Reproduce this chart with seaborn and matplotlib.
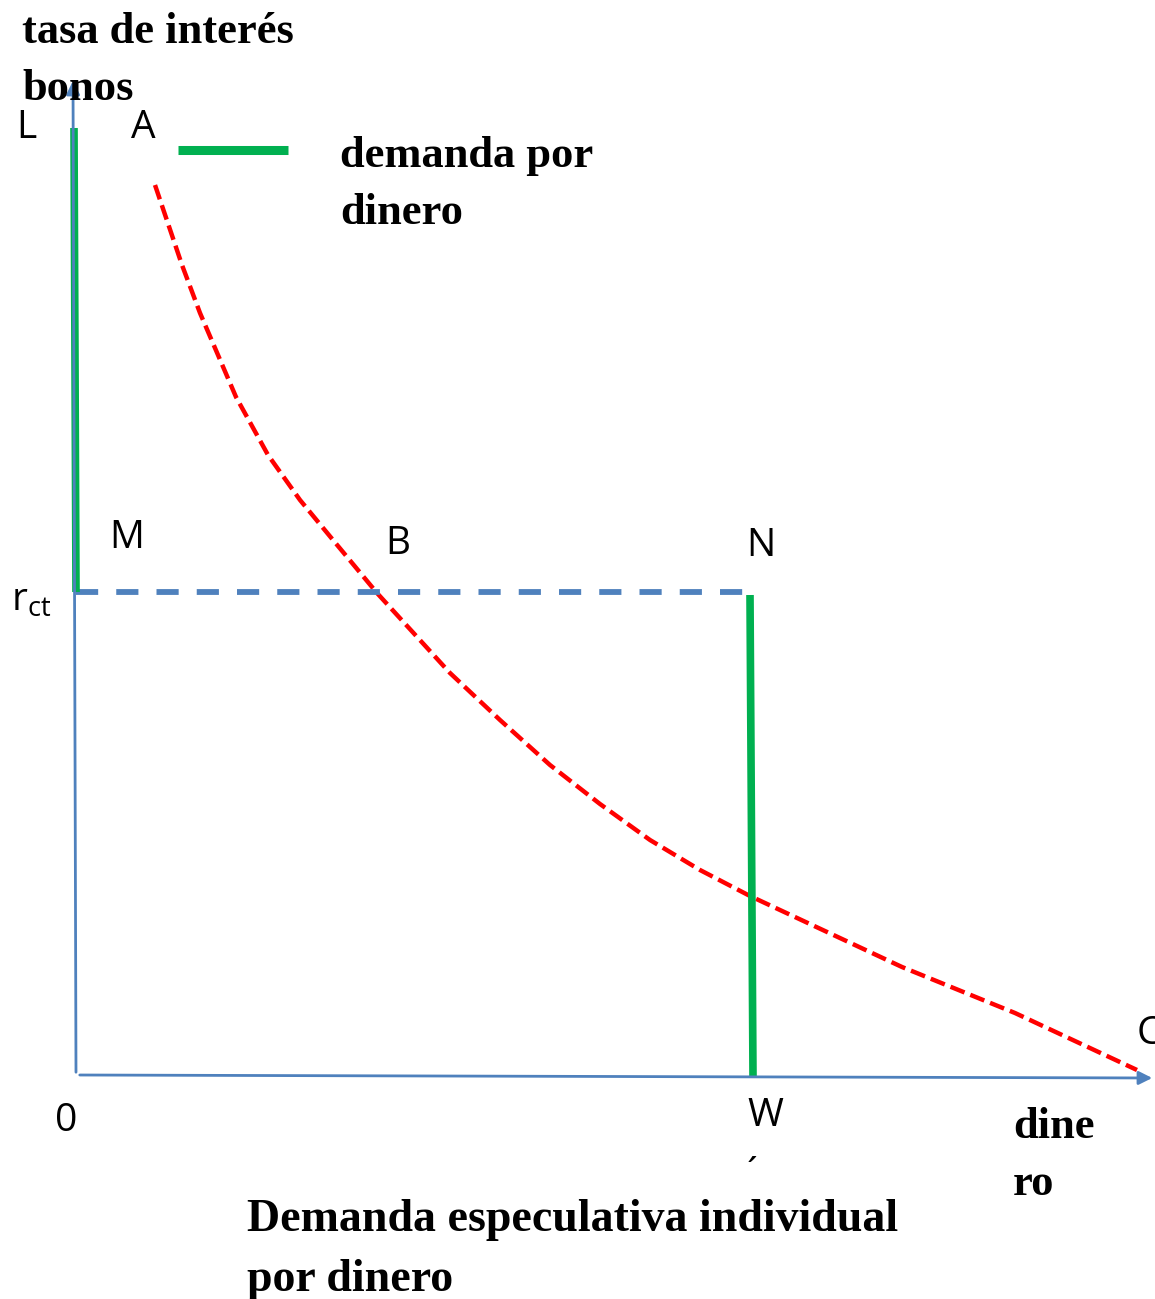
import numpy as np
import pandas as pd
import seaborn as sns
import matplotlib.pyplot as plt

# -------------------------------
# Data (units: money on x, interest rate on y)
# -------------------------------
curve_x = [77, 104, 122, 158, 190, 222, 255, 299, 372, 422, 472, 522, 572,
           622, 672, 824, 937, 1059]
curve_y = [890, 810, 762, 678, 620, 575, 535, 482, 402, 355, 310, 271, 235,
           205, 179, 108, 62, 5]

r_ct = 483
top_L = 947

green_left_x = [-4, -2]
green_left_y = [top_L, r_ct]
green_right_x = [672, 675]
green_right_y = [r_ct - 3, -2]
rct_line_x = [-2, 672]
rct_line_y = [r_ct, r_ct]

# -------------------------------
# Figure
# -------------------------------
sns.set_theme(style="white")
plt.rcParams["font.family"] = ["Open Sans", "DejaVu Sans"]
plt.rcParams["text.color"] = "black"
plt.rcParams["mathtext.fontset"] = "custom"
plt.rcParams["mathtext.rm"] = "Open Sans"

fig = plt.figure(figsize=(11.55, 12.99), dpi=100)
ax = fig.add_axes([0, 0, 1, 1])
ax.set_xlim(-78, 1077)
ax.set_ylim(-224, 1075)
ax.axis("off")

blue = "#4F81BD"
green = "#00B050"
red = "#FF0000"

# axes arrows
ax.annotate("", xy=(-5, 997), xytext=(-2, 0),
            arrowprops=dict(arrowstyle="-|>", color=blue, lw=2, mutation_scale=20))
ax.annotate("", xy=(1077, -3), xytext=(-1, 0),
            arrowprops=dict(arrowstyle="-|>", color=blue, lw=2, mutation_scale=20))

# demand curve
curve = pd.DataFrame({"x": curve_x, "y": curve_y})
sns.lineplot(data=curve, x="x", y="y", sort=False, ax=ax, color=red, lw=3.2)
ax.lines[-1].set_dashes([3.4, 1.4])

# r_ct dashed line
sns.lineplot(x=rct_line_x, y=rct_line_y, ax=ax, color=blue, lw=4.2)
ax.lines[-1].set_dashes([3.8, 3.1])

# money demand (green)
ax.plot(green_left_x, green_left_y, color=green, lw=5.5, solid_capstyle="butt")
ax.plot(green_right_x, green_right_y, color=green, lw=5.5, solid_capstyle="butt")

# legend
ax.plot([100, 210], [925, 925], color=green, lw=6.5, solid_capstyle="butt")
serif = ["Liberation Serif", "DejaVu Serif"]
st = dict(family=serif, fontsize=32, fontweight="bold", va="top", ha="left",
          linespacing=1.55, color="black")
ax.text(262, 939, "demanda por\ndinero", **st)

# axis titles
ax.text(-56, 1063, "tasa de interés\nbonos", **st)
ax.text(935, -32, "dine\nro", **st)
ax.text(169, -124, "Demanda especulativa individual\npor dinero",
        **{**st, "fontsize": 33})

# point labels
lbl = dict(fontsize=28, ha="center", va="center", color="black")
ax.text(-52, 947, "L", **lbl)
ax.text(65, 947, "A", **lbl)
ax.text(49, 537, "M", **lbl)
ax.text(320, 531, "B", **lbl)
ax.text(683, 529, "N", **lbl)
ax.text(-12, -46, "0", **lbl)
ax.text(687, -41, "W", **lbl)
ax.text(674, -100, "´", **lbl)
ax.text(1059, 41, "C", fontsize=28, ha="left", va="center", color="black")
ax.text(-47, 474, r"r$_{\mathrm{ct}}$", **lbl)

fig.savefig("out.png", dpi=100)
